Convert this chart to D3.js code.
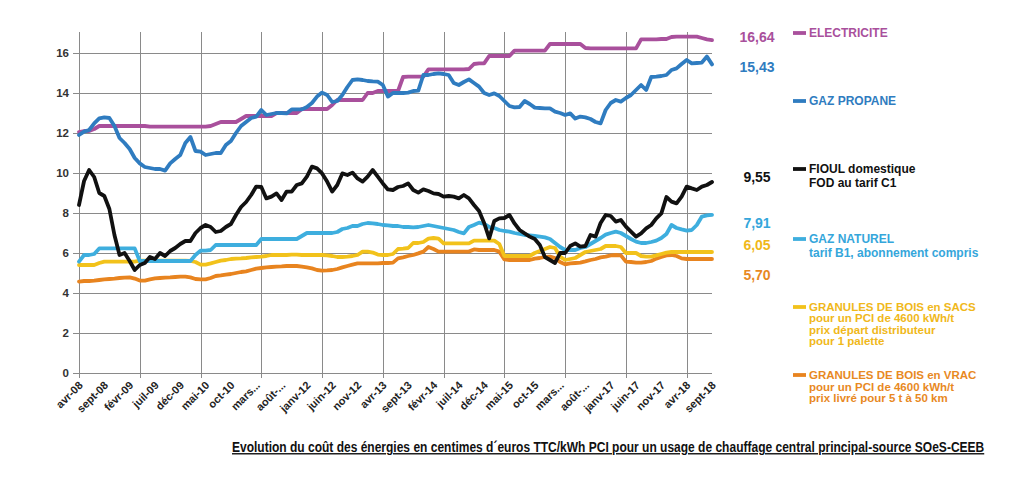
<!DOCTYPE html>
<html><head><meta charset="utf-8">
<script src="https://cdn.jsdelivr.net/npm/d3@7"></script>
<style>
body{margin:0;background:#fff}
svg{display:block}
text{font-family:"Liberation Sans",Arial,sans-serif}
</style>
</head><body>
<svg id="chart" width="1024" height="480"></svg>
<script>
// ---- DATA (centimes d'euros TTC/kWh PCI), monthly avr-08 .. sept-18 ----
const xTickLabels = ["avr-08","sept-08","févr-09","juil-09","déc-09","mai-10","oct-10","mars...","août-...","janv-12","juin-12","nov-12","avr-13","sept-13","févr-14","juil-14","déc-14","mai-15","oct-15","mars...","août-...","janv-17","juin-17","nov-17","avr-18","sept-18"];
const yTicks = [0,2,4,6,8,10,12,14,16];

const electricite = [
12.05,12.1,12.1,12.2,12.35,12.35,12.35,12.35,12.35,12.35,
12.35,12.35,12.35,12.35,12.32,12.32,12.32,12.32,12.32,12.32,
12.32,12.32,12.32,12.32,12.32,12.32,12.35,12.45,12.55,12.55,
12.55,12.55,12.7,12.85,12.85,12.85,12.85,12.85,12.85,13.0,
13.0,13.0,13.0,13.0,13.2,13.2,13.2,13.2,13.2,13.2,
13.4,13.65,13.65,13.65,13.65,13.65,13.65,14.0,14.0,14.1,
14.1,14.1,14.1,14.1,14.8,14.82,14.82,14.82,14.82,15.18,
15.18,15.18,15.18,15.18,15.18,15.18,15.18,15.2,15.45,15.48,
15.48,15.85,15.85,15.85,15.85,15.85,16.12,16.12,16.12,16.12,
16.12,16.12,16.12,16.45,16.45,16.45,16.45,16.45,16.45,16.45,
16.25,16.23,16.23,16.23,16.23,16.23,16.23,16.23,16.23,16.23,
16.23,16.68,16.68,16.68,16.68,16.7,16.7,16.8,16.82,16.82,
16.82,16.82,16.82,16.75,16.68,16.64];

const gazPropane = [
11.9,12.07,12.15,12.48,12.73,12.78,12.75,12.35,11.75,11.5,
11.2,10.75,10.48,10.3,10.25,10.2,10.2,10.12,10.48,10.7,
10.9,11.5,11.8,11.1,11.07,10.9,10.95,11.0,11.0,11.4,
11.6,12.0,12.35,12.55,12.75,12.82,13.15,12.9,12.95,13.0,
13.0,12.98,13.18,13.18,13.18,13.3,13.5,13.82,14.02,13.9,
13.55,13.6,13.9,14.3,14.65,14.68,14.65,14.6,14.58,14.57,
14.4,13.82,14.0,14.0,14.0,14.02,14.1,14.12,14.9,14.9,
14.95,14.98,14.95,14.9,14.5,14.4,14.55,14.68,14.5,14.32,
14.0,13.9,13.98,13.85,13.6,13.35,13.28,13.3,13.6,13.45,
13.27,13.25,13.23,13.23,13.07,13.0,12.9,12.98,12.72,12.82,
12.78,12.7,12.55,12.48,13.15,13.5,13.65,13.57,13.75,13.9,
14.15,14.4,14.15,14.8,14.82,14.85,14.9,15.15,15.23,15.45,
15.65,15.48,15.5,15.52,15.82,15.43];

const fioul = [
8.4,9.6,10.15,9.8,9.0,8.85,8.2,6.9,5.9,6.0,
5.6,5.15,5.4,5.5,5.8,5.7,6.0,5.85,6.1,6.25,
6.45,6.6,6.6,7.0,7.25,7.4,7.3,7.05,7.1,7.3,
7.45,7.9,8.3,8.55,8.9,9.32,9.3,8.73,8.82,8.98,
8.65,9.07,9.07,9.4,9.48,9.82,10.32,10.23,9.98,9.57,
9.07,9.4,9.98,9.9,10.02,9.73,9.57,9.82,10.15,9.82,
9.48,9.18,9.15,9.3,9.35,9.48,9.15,9.02,9.18,9.1,
8.98,8.95,8.82,8.85,8.82,8.73,8.9,8.73,8.4,8.1,
7.5,6.73,7.6,7.73,7.75,7.9,7.48,7.15,6.98,6.82,
6.7,6.4,5.8,5.65,5.5,6.0,6.0,6.35,6.48,6.32,
6.35,6.9,6.82,7.5,7.9,7.85,7.57,7.65,7.32,7.07,
6.82,6.98,7.23,7.4,7.73,7.98,8.8,8.57,8.48,8.82,
9.32,9.23,9.15,9.32,9.4,9.55];

const gazNaturel = [
5.57,5.9,5.9,5.95,6.23,6.23,6.23,6.23,6.23,6.23,
6.23,6.23,5.6,5.6,5.6,5.6,5.6,5.6,5.6,5.6,
5.6,5.6,5.6,5.9,6.12,6.12,6.15,6.4,6.4,6.4,
6.4,6.4,6.4,6.4,6.4,6.4,6.7,6.7,6.7,6.7,
6.7,6.7,6.7,6.7,6.85,7.0,7.0,7.0,7.0,7.0,
7.0,7.05,7.2,7.25,7.35,7.35,7.45,7.5,7.48,7.45,
7.4,7.38,7.35,7.35,7.3,7.3,7.28,7.3,7.35,7.4,
7.35,7.3,7.25,7.2,7.15,7.05,6.98,7.3,7.4,7.52,
7.45,7.3,7.25,7.15,7.1,7.07,7.0,6.95,6.9,6.88,
6.85,6.82,6.78,6.7,6.5,6.3,6.15,6.15,6.15,6.25,
6.3,6.45,6.6,6.75,6.92,7.0,7.07,7.0,6.85,6.7,
6.57,6.5,6.5,6.55,6.62,6.75,6.95,7.4,7.25,7.18,
7.12,7.15,7.4,7.82,7.88,7.91];

const granulesSacs = [
5.4,5.4,5.4,5.4,5.5,5.57,5.57,5.57,5.57,5.57,
5.57,5.57,5.62,5.62,5.62,5.62,5.62,5.62,5.62,5.62,
5.62,5.62,5.6,5.55,5.42,5.42,5.48,5.55,5.62,5.65,
5.7,5.72,5.73,5.75,5.78,5.8,5.82,5.85,5.9,5.9,
5.9,5.9,5.92,5.92,5.9,5.9,5.9,5.9,5.9,5.88,
5.85,5.8,5.8,5.82,5.85,5.9,6.07,6.07,6.02,5.92,
5.9,5.9,5.95,6.2,6.22,6.25,6.5,6.5,6.55,6.72,
6.75,6.72,6.48,6.48,6.48,6.48,6.48,6.48,6.62,6.62,
6.62,6.62,6.62,6.45,5.85,5.85,5.85,5.85,5.85,5.85,
6.0,6.1,6.2,6.3,6.25,5.82,5.65,5.7,5.75,5.9,
6.05,6.1,6.15,6.2,6.35,6.35,6.35,6.3,6.0,6.0,
6.0,5.85,5.82,5.82,5.88,5.95,6.02,6.05,6.05,6.05,
6.05,6.05,6.05,6.05,6.05,6.05];

const granulesVrac = [
4.57,4.6,4.6,4.62,4.65,4.68,4.7,4.72,4.75,4.77,
4.78,4.72,4.62,4.62,4.68,4.73,4.75,4.77,4.78,4.8,
4.82,4.82,4.78,4.7,4.68,4.68,4.75,4.85,4.88,4.92,
4.95,5.0,5.05,5.08,5.15,5.22,5.25,5.28,5.3,5.32,
5.33,5.35,5.35,5.35,5.32,5.28,5.23,5.15,5.12,5.13,
5.15,5.2,5.28,5.35,5.42,5.48,5.48,5.48,5.48,5.48,
5.5,5.5,5.52,5.73,5.78,5.85,5.9,5.98,6.07,6.3,
6.2,6.07,6.07,6.07,6.07,6.07,6.07,6.07,6.18,6.15,
6.15,6.15,6.15,6.07,5.68,5.65,5.65,5.65,5.65,5.65,
5.72,5.75,5.8,5.82,5.75,5.55,5.43,5.48,5.5,5.52,
5.58,5.65,5.7,5.78,5.82,5.88,5.9,5.88,5.57,5.55,
5.52,5.52,5.55,5.6,5.72,5.8,5.88,5.9,5.85,5.73,
5.7,5.7,5.7,5.7,5.7,5.7];

const endLabels = ["16,64","15,43","9,55","7,91","6,05","5,70"];
const legendLines = [
  ["ELECTRICITE"],
  ["GAZ PROPANE"],
  ["FIOUL domestique","FOD au tarif C1"],
  ["GAZ NATUREL","tarif B1, abonnement compris"],
  ["GRANULES DE BOIS en SACS","pour un PCI de 4600 kWh/t","prix départ distributeur","pour 1 palette"],
  ["GRANULES DE BOIS en VRAC","pour un PCI de 4600 kWh/t","prix livré pour 5 t à 50 km"]
];
const caption = "Evolution du coût des énergies en centimes d´euros TTC/kWh PCI pour un usage de chauffage central principal-source SOeS-CEEB";

// ---- layout / style ----
const svg = d3.select("#chart");
const L = 79, R = 712, T = 33, B = 373;
const x = d3.scaleLinear().domain([0, electricite.length - 1]).range([L, R]);
const y = d3.scaleLinear().domain([0, 17]).range([B, T]);

const series = [
  {v: granulesVrac, c: "#e8841f", lab: {y: 275}, leg: {y: 375, lh: 11.5, fs: 11.5}},
  {v: granulesSacs, c: "#f2c21b", lab: {y: 245}, leg: {y: 307, lh: 11.3, fs: 11.5}},
  {v: gazNaturel,   c: "#3eaede", lab: {y: 223}, leg: {y: 239, lh: 14, fs: 12}},
  {v: electricite,  c: "#a9509c", lab: {y: 37},  leg: {y: 33, lh: 14, fs: 12}},
  {v: gazPropane,   c: "#2f7cc0", lab: {y: 67},  leg: {y: 101, lh: 14, fs: 12}},
  {v: fioul,        c: "#111111", lab: {y: 177}, leg: {y: 169, lh: 14, fs: 12}}
];
const order = [3,4,5,2,1,0]; // series index for endLabels / legendLines order
const txtColors = {3:"#a9509c",4:"#2f7cc0",5:"#111",2:"#35a6db",1:"#f0b81a",0:"#e8891f"};

// gridlines
const gridColor = "#8a8a8a";
svg.append("g").selectAll("line").data(yTicks).join("line")
  .attr("x1", L - 6).attr("x2", R)
  .attr("y1", d => Math.round(y(d)) + 0.5).attr("y2", d => Math.round(y(d)) + 0.5)
  .attr("stroke", gridColor).attr("stroke-width", 1);
const vTicks = d3.range(0, electricite.length, 12);
svg.append("g").selectAll("line").data(vTicks).join("line")
  .attr("x1", d => Math.round(x(d)) + 0.5).attr("x2", d => Math.round(x(d)) + 0.5)
  .attr("y1", T - 1).attr("y2", B + 5)
  .attr("stroke", gridColor).attr("stroke-width", 1);

// y axis labels
const yAxis = d3.axisLeft(y).tickValues(yTicks).tickSize(0).tickPadding(10);
const gy = svg.append("g").attr("transform", `translate(${L},0)`).call(yAxis);
gy.select(".domain").remove();
gy.selectAll("text").attr("font-size", 11.5).attr("font-weight", "bold").attr("fill", "#333")
  .attr("font-family", "Liberation Sans, Arial, sans-serif");

// x axis labels
const xTickIdx = xTickLabels.map((_, i) => i * 5);
const xAxis = d3.axisBottom(x).tickValues(xTickIdx).tickSize(0).tickFormat((d, i) => xTickLabels[i]);
const gx = svg.append("g").attr("transform", `translate(0,${B})`).call(xAxis);
gx.select(".domain").remove();
gx.selectAll("text")
  .attr("font-size", 11).attr("font-weight", "bold").attr("fill", "#222")
  .attr("font-family", "Liberation Sans, Arial, sans-serif")
  .attr("text-anchor", "end").attr("dy", null).attr("y", 0)
  .attr("transform", "translate(4,13) rotate(-45)");

// lines
const line = d3.line().x((d, i) => x(i)).y(d => y(d));
svg.append("g").selectAll("path").data(series).join("path")
  .attr("d", s => line(s.v))
  .attr("fill", "none").attr("stroke", s => s.c)
  .attr("stroke-width", 3.8).attr("stroke-linejoin", "round").attr("stroke-linecap", "round");

// end value labels
order.forEach((si, k) => {
  svg.append("text").attr("x", 757).attr("y", series[si].lab.y)
    .attr("dy", "0.35em").attr("text-anchor", "middle")
    .attr("font-size", 14).attr("font-weight", "bold")
    .attr("fill", txtColors[si]).text(endLabels[k]);
});

// legend
order.forEach((si, k) => {
  const s = series[si];
  svg.append("line").attr("x1", 793).attr("x2", 806)
    .attr("y1", s.leg.y).attr("y2", s.leg.y)
    .attr("stroke", s.c).attr("stroke-width", 3.8);
  legendLines[k].forEach((t, j) => {
    svg.append("text").attr("x", 809).attr("y", s.leg.y + j * s.leg.lh)
      .attr("dy", "0.35em").attr("font-size", s.leg.fs).attr("font-weight", "bold")
      .attr("fill", txtColors[si]).text(t);
  });
});

// caption (condensed horizontally to the reference width)
const capG = svg.append("g");
const cap = capG.append("text").attr("x", 0).attr("y", 0)
  .attr("font-size", 14).attr("font-weight", "bold").attr("fill", "#111")
  .attr("text-decoration", "underline")
  .text(caption);
const natural = cap.node().getComputedTextLength();
capG.attr("transform", `translate(232,452) scale(${753 / natural},1)`);
</script>
</body></html>
